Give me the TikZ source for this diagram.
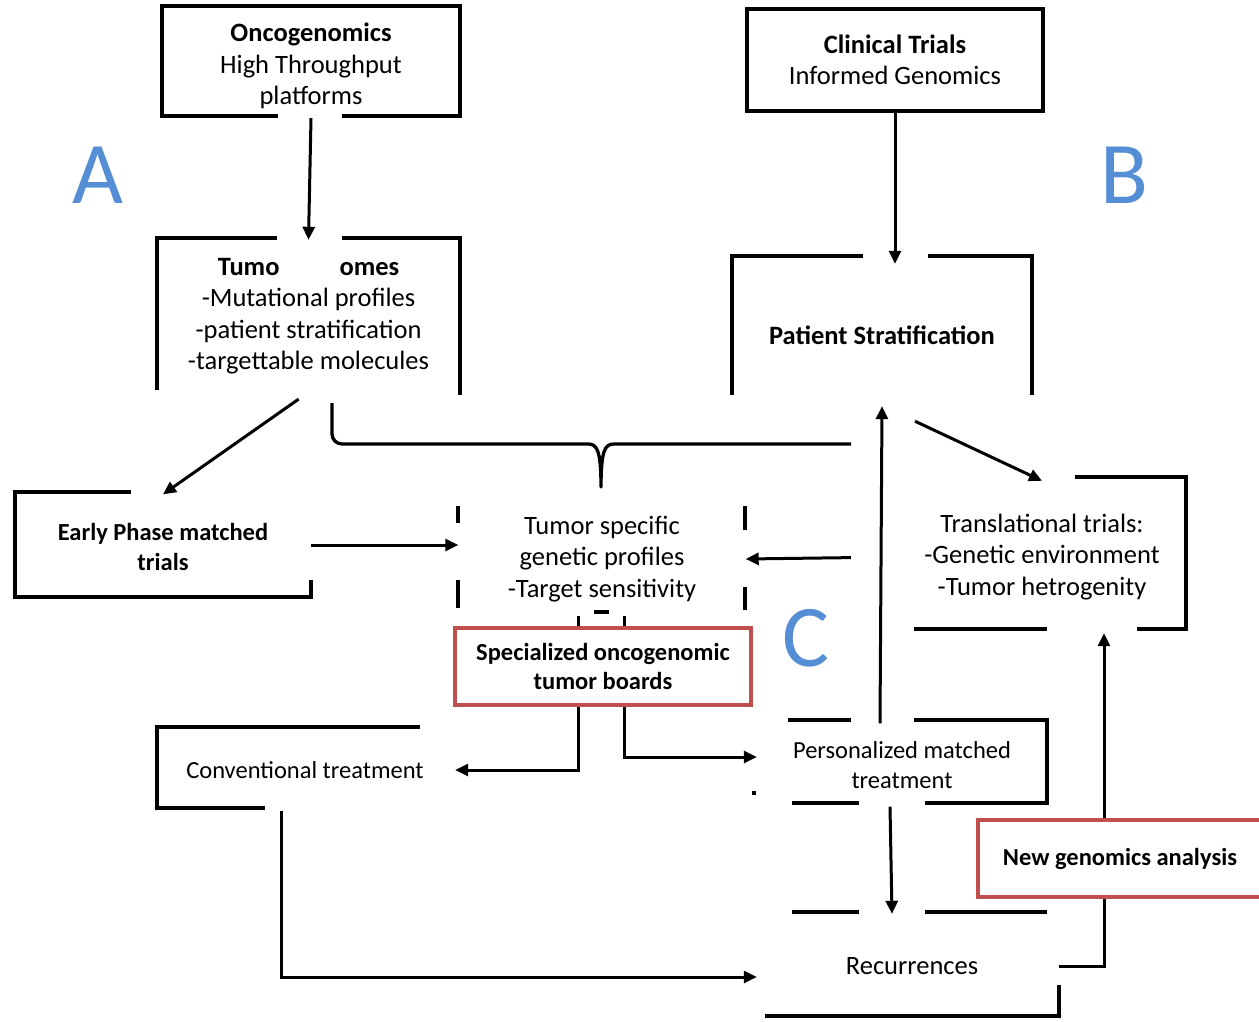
\documentclass[tikz,border=0pt]{standalone}
\usepackage{fontspec}
\setmainfont{Carlito}
\usepackage{xcolor}
\usepackage{tikz}
\usetikzlibrary{arrows.meta}
\definecolor{boardred}{RGB}{192,80,77}
\definecolor{letterblue}{RGB}{85,142,213}

\begin{document}
\begin{tikzpicture}[
  x=1pt, y=-1pt,
  txt/.style={align=center, inner sep=0pt, font=\fontsize{26.5}{31.5}\selectfont},
  sml/.style={align=center, inner sep=0pt, font=\fontsize{24.5}{29.5}\selectfont},
  brd/.style={line width=3.3pt},
  redbox/.style={draw=boardred, line width=3.3pt, fill=white},
  letter/.style={inner sep=0pt, text=letterblue, font=\fontsize{88}{88}\selectfont},
  arr/.style={-{Triangle[length=13pt,width=12pt]}, line width=3pt}
]
\useasboundingbox (0,0) rectangle (1259,1021);
\node[txt, minimum width=298pt, minimum height=104pt] (onco) at (311,66)
  {\textbf{Oncogenomics}\\High Throughput\\platforms};
\node[txt, draw, line width=3.3pt, minimum width=296pt, minimum height=102pt] (clin) at (895,60)
  {\textbf{Clinical Trials}\\Informed Genomics};
\node[txt, minimum width=303pt, minimum height=152pt] (tg) at (308.5,316)
  {\textbf{Tumo\hspace{60pt}omes}\\-Mutational profiles\\-patient stratification\\-targettable molecules};
\node[txt, minimum width=300pt, minimum height=142pt] (ps) at (882,335)
  {\textbf{Patient Stratification}};
\node[sml, minimum width=296pt, minimum height=105pt] (ep) at (163,547)
  {\textbf{Early Phase matched}\\\textbf{trials}};
\node[txt, minimum width=287pt, minimum height=106pt] (ts) at (602,559)
  {Tumor specific\\genetic profiles\\-Target sensitivity};
\node[txt, minimum width=290pt, minimum height=152pt] (tt) at (1042,557)
  {Translational trials:\\-Genetic environment\\-Tumor hetrogenity};
\node[sml, minimum width=264pt, minimum height=81pt] (ct) at (305,770)
  {Conventional treatment};
\node[sml, minimum width=290pt, minimum height=83pt] (pm) at (902,765)
  {Personalized matched\\treatment};
\node[txt, minimum width=294pt, minimum height=104pt] (rec) at (912,966)
  {Recurrences};
\node[letter] (la) at (98,175) {A};
\node[letter] (lb) at (1124,175) {B};
\node[letter] (lc) at (806,638) {C};

\draw[brd] (278,116) -| (162,6) -| (460,116) -- (342,116);
\draw[brd] (157,390) |- (277,238);
\draw[brd] (342,238) -| (460,395);
\draw[brd] (732,395) |- (863,256);
\draw[brd] (928,256) -| (1032,395);
\draw[brd] (131,492) -| (15,597) -| (311,580);
\draw[brd] (458,506) -- (458,523);
\draw[brd] (458,580) -- (458,608);
\draw[brd] (745,506) -- (745,530);
\draw[brd] (745,587) -- (745,610);
\draw[brd] (594,612) -- (609,612);
\draw[brd] (1075,477) -| (1186,629) -- (1137,629);
\draw[brd] (1047,629) -- (914,629);
\draw[brd] (420,727) -| (157,808) -- (265,808);
\draw[brd] (788,720) -- (851,720);
\draw[brd] (914,720) -| (1047,803) -- (925,803);
\draw[brd] (859,803) -- (792,803);
\fill (752,791) rectangle (756,795);
\draw[brd] (792,912) -- (859,912);
\draw[brd] (925,912) -- (1047,912);
\draw[brd] (765,1016) -| (1059,985);
\draw[brd, line join=round] (332,403) -- (332,434) to[out=-90,in=180] (342,444) -- (588,444)
  .. controls (597,444) and (601,450) .. (601,487)
  .. controls (601,450) and (605,444) .. (614,444) -- (851,444);

\draw[arr] (onco.south) -- (tg.north);
\draw[arr] (clin.south) -- (clin.south |- ps.north);
\draw[arr, shorten <=12pt] (tg.south) -- (ep.north);
\draw[arr] ([xshift=33pt,yshift=-15pt]ps.south) -- (tt.north);
\draw[arr] ([yshift=2pt]ep.east) -- ([yshift=2pt]ep.east -| ts.west);
\draw[arr, shorten <=46pt] (tt.west) -- (ts.east);
\draw[arr] ([xshift=-22pt]pm.north) -- (ps.south);
\draw[arr, shorten <=4pt, shorten >=18pt] ([xshift=-24pt]ts.south) |- (ct.east);
\draw[arr, shorten <=4pt] ([xshift=22pt]ts.south) |- ([yshift=8pt]pm.west);
\draw[arr] ([xshift=-12pt]pm.south) -- ([xshift=-20pt]rec.north);
\draw[arr] ([xshift=-24pt]ct.south) |- ([xshift=-8pt,yshift=-11pt]rec.west);
\draw[arr] (rec.east) -| ([xshift=62pt]tt.south);

\node[sml, redbox, minimum width=296pt, minimum height=77pt] (tb) at (603,666.5)
  {\textbf{Specialized oncogenomic}\\\textbf{tumor boards}};
\node[sml, redbox, minimum width=284pt, minimum height=77pt] (ng) at (1120,858.5)
  {\textbf{New genomics analysis}};
\end{tikzpicture}
\end{document}
